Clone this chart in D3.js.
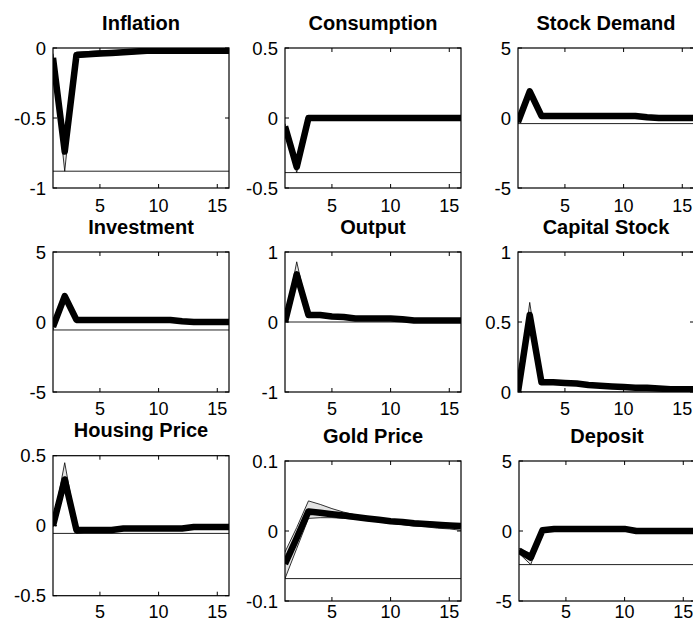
<!DOCTYPE html>
<html>
<head>
<meta charset="utf-8">
<script src="https://cdn.jsdelivr.net/npm/d3@7/dist/d3.min.js"></script>
<style>
  html, body { margin: 0; padding: 0; background: #fff; }
  svg { display: block; }
  text { font-family: "Liberation Sans", Arial, sans-serif; fill: #000; }
</style>
</head>
<body>
<svg id="chart" width="693" height="628"></svg>
<script>
// ---------------- DATA ----------------
const periods = [1,2,3,4,5,6,7,8,9,10,11,12,13,14,15,16];
const xTicks = [5, 10, 15];

const titles = ["Inflation","Consumption","Stock Demand","Investment","Output","Capital Stock","Housing Price","Gold Price","Deposit"];

const yDomains = [[-1,0],[-0.5,0.5],[-5,5],[-5,5],[-1,1],[0,1],[-0.5,0.5],[-0.1,0.1],[-5,5]];
const yTickLabels = [[-1,-0.5,0],[-0.5,0,0.5],[-5,0,5],[-5,0,5],[-1,0,1],[0,0.5,1],[-0.5,0,0.5],[-0.1,0,0.1],[-5,0,5]];

const inflationMed = [-0.07,-0.74,-0.05,-0.045,-0.04,-0.035,-0.03,-0.025,-0.02,-0.02,-0.02,-0.02,-0.02,-0.02,-0.02,-0.02];
const inflationLo  = [-0.10,-0.88,-0.065,-0.06,-0.055,-0.05,-0.045,-0.04,-0.035,-0.03,-0.03,-0.03,-0.03,-0.03,-0.025,-0.025];
const inflationHi  = [-0.04,-0.62,-0.03,-0.025,-0.02,-0.02,-0.015,-0.012,-0.01,-0.01,-0.01,-0.01,-0.01,-0.01,-0.01,-0.01];

const consumptionMed = [-0.06,-0.35,0,0,0,0,0,0,0,0,0,0,0,0,0,0];
const consumptionLo  = [-0.09,-0.39,-0.005,-0.005,-0.005,-0.005,-0.005,-0.005,-0.005,-0.005,-0.005,-0.005,-0.005,-0.005,-0.005,-0.005];
const consumptionHi  = [-0.04,-0.31,0.005,0.005,0.005,0.005,0.005,0.005,0.005,0.005,0.005,0.005,0.005,0.005,0.005,0.005];

const stockMed = [-0.3,1.9,0.15,0.15,0.15,0.15,0.15,0.15,0.15,0.15,0.15,0.05,0,0,0,0];
const stockLo  = [-0.4,1.7,0.05,0.05,0.05,0.05,0.05,0.05,0.05,0.05,0.05,-0.05,-0.1,-0.1,-0.1,-0.1];
const stockHi  = [-0.2,2.05,0.25,0.25,0.25,0.25,0.25,0.25,0.25,0.25,0.25,0.15,0.1,0.1,0.1,0.1];

const investmentMed = [-0.35,1.85,0.15,0.15,0.15,0.15,0.15,0.15,0.15,0.15,0.15,0.05,0,0,0,0];
const investmentLo  = [-0.57,1.65,0.05,0.05,0.05,0.05,0.05,0.05,0.05,0.05,0.05,-0.05,-0.1,-0.1,-0.1,-0.1];
const investmentHi  = [-0.2,2.0,0.25,0.25,0.25,0.25,0.25,0.25,0.25,0.25,0.25,0.15,0.1,0.1,0.1,0.1];

const outputMed = [0,0.68,0.1,0.1,0.08,0.07,0.05,0.05,0.05,0.05,0.04,0.02,0.02,0.02,0.02,0.02];
const outputLo  = [0,0.58,0.09,0.09,0.07,0.06,0.04,0.04,0.04,0.04,0.03,0.01,0.01,0.01,0.01,0.01];
const outputHi  = [0,0.86,0.11,0.11,0.09,0.08,0.06,0.06,0.06,0.06,0.05,0.03,0.03,0.03,0.03,0.03];

const capitalMed = [0,0.55,0.07,0.07,0.065,0.06,0.05,0.045,0.04,0.035,0.03,0.03,0.025,0.02,0.02,0.02];
const capitalLo  = [0,0.48,0.06,0.06,0.055,0.05,0.04,0.035,0.03,0.025,0.02,0.02,0.015,0.01,0.01,0.01];
const capitalHi  = [0,0.64,0.08,0.08,0.075,0.07,0.06,0.055,0.05,0.045,0.04,0.04,0.035,0.03,0.03,0.03];

const housingMed = [0,0.33,-0.03,-0.03,-0.03,-0.03,-0.02,-0.02,-0.02,-0.02,-0.02,-0.02,-0.01,-0.01,-0.01,-0.01];
const housingLo  = [-0.01,0.26,-0.055,-0.045,-0.045,-0.04,-0.035,-0.03,-0.03,-0.03,-0.03,-0.03,-0.02,-0.02,-0.02,-0.02];
const housingHi  = [0.01,0.45,-0.015,-0.015,-0.015,-0.015,-0.01,-0.01,-0.01,-0.01,-0.01,-0.01,0,0,0,0];

const goldMed = [-0.047,-0.01,0.028,0.026,0.024,0.022,0.02,0.018,0.016,0.014,0.013,0.011,0.01,0.009,0.008,0.007];
const goldLo  = [-0.068,-0.025,0.018,0.019,0.019,0.018,0.017,0.015,0.013,0.011,0.009,0.007,0.006,0.004,0.003,0.001];
const goldHi  = [-0.03,0.005,0.043,0.038,0.032,0.027,0.023,0.02,0.018,0.016,0.015,0.014,0.013,0.012,0.011,0.01];

const depositMed = [-1.4,-1.9,0.05,0.15,0.15,0.15,0.15,0.15,0.15,0.15,0,0,0,0,0,0];
const depositLo  = [-1.6,-2.4,-0.05,0.05,0.05,0.05,0.05,0.05,0.05,0.05,-0.1,-0.1,-0.1,-0.1,-0.1,-0.1];
const depositHi  = [-1.25,-1.6,0.15,0.25,0.25,0.25,0.25,0.25,0.25,0.25,0.1,0.1,0.1,0.1,0.1,0.1];

const medians = [inflationMed, consumptionMed, stockMed, investmentMed, outputMed, capitalMed, housingMed, goldMed, depositMed];
const lowers  = [inflationLo, consumptionLo, stockLo, investmentLo, outputLo, capitalLo, housingLo, goldLo, depositLo];
const uppers  = [inflationHi, consumptionHi, stockHi, investmentHi, outputHi, capitalHi, housingHi, goldHi, depositHi];

// ---------------- LAYOUT ----------------
const W = 176, H = 140;
const layout = [
  {left: 53,  top: 48,    xlab: 212},
  {left: 285, top: 48,    xlab: 212},
  {left: 518, top: 48,    xlab: 212},
  {left: 53,  top: 252,   xlab: 415},
  {left: 285, top: 252,   xlab: 415},
  {left: 518, top: 252,   xlab: 415},
  {left: 53,  top: 455.7, xlab: 618},
  {left: 285, top: 461,   xlab: 618},
  {left: 519, top: 461,   xlab: 618}
];

const svg = d3.select("#chart");
const fmt = v => (v === 0 ? "0" : String(v));

titles.forEach((title, i) => {
  const L = layout[i];
  const g = svg.append("g").attr("transform", `translate(${L.left},${L.top})`);
  const x = d3.scaleLinear().domain([1, 16]).range([0, W]);
  const y = d3.scaleLinear().domain(yDomains[i]).range([H, 0]);

  const clipId = "clip" + i;
  g.append("clipPath").attr("id", clipId)
    .append("rect").attr("x", 0).attr("y", 0).attr("width", W).attr("height", H);

  const plot = g.append("g").attr("clip-path", `url(#${clipId})`);
  const med = medians[i], lo = lowers[i], hi = uppers[i];
  const rows = periods.map((p, k) => ({p, m: med[k], l: lo[k], h: hi[k]}));

  // band fill
  plot.append("path")
    .datum(rows)
    .attr("d", d3.area().x(d => x(d.p)).y0(d => y(d.l)).y1(d => y(d.h)))
    .attr("fill", "#e3e3e3").attr("stroke", "none");

  // baseline at band minimum
  const base = d3.min(lo);
  plot.append("line")
    .attr("x1", 0).attr("x2", W)
    .attr("y1", y(base)).attr("y2", y(base))
    .attr("stroke", "#222").attr("stroke-width", 1);

  // band lines
  [lo, hi].forEach(arr => {
    plot.append("path")
      .datum(periods.map((p, k) => [p, arr[k]]))
      .attr("d", d3.line().x(d => x(d[0])).y(d => y(d[1])))
      .attr("fill", "none").attr("stroke", "#000").attr("stroke-width", 0.8);
  });

  // median thick line
  plot.append("path")
    .datum(rows)
    .attr("d", d3.line().x(d => x(d.p)).y(d => y(d.m)))
    .attr("fill", "none").attr("stroke", "#000")
    .attr("stroke-width", 6.5).attr("stroke-linejoin", "round");

  // frame
  g.append("rect").attr("x", 0).attr("y", 0).attr("width", W).attr("height", H)
    .attr("fill", "none").attr("stroke", "#000").attr("stroke-width", 1.2);

  // inward ticks
  const tl = 4;
  xTicks.forEach(t => {
    g.append("line").attr("x1", x(t)).attr("x2", x(t)).attr("y1", H).attr("y2", H - tl).attr("stroke", "#000");
    g.append("line").attr("x1", x(t)).attr("x2", x(t)).attr("y1", 0).attr("y2", tl).attr("stroke", "#000");
    g.append("text").attr("x", x(t)).attr("y", L.xlab - L.top)
      .attr("text-anchor", "middle").attr("font-size", 18).text(t);
  });
  yTickLabels[i].forEach(t => {
    g.append("line").attr("x1", 0).attr("x2", tl).attr("y1", y(t)).attr("y2", y(t)).attr("stroke", "#000");
    g.append("line").attr("x1", W).attr("x2", W - tl).attr("y1", y(t)).attr("y2", y(t)).attr("stroke", "#000");
    g.append("text").attr("x", -7).attr("y", y(t)).attr("dy", "0.36em")
      .attr("text-anchor", "end").attr("font-size", 18.5).text(fmt(t));
  });

  // title
  g.append("text").attr("x", W / 2).attr("y", -18.5)
    .attr("text-anchor", "middle").attr("font-size", 20).attr("font-weight", "bold")
    .text(title);
});
</script>
</body>
</html>
